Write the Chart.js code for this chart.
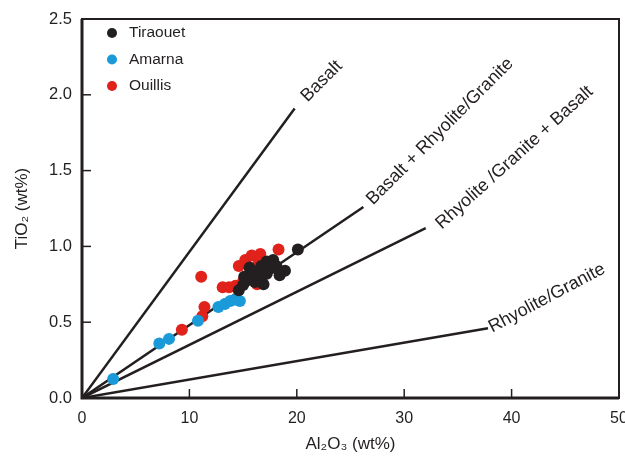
<!DOCTYPE html>
<html>
<head>
<meta charset="utf-8">
<script src="https://cdn.jsdelivr.net/npm/chart.js@4.4.1/dist/chart.umd.min.js"></script>
<style>
    html, body { margin: 0; padding: 0; background: #fff; }
    #wrap { width: 625px; height: 459px; }
</style>
</head>
<body>
<div id="wrap"><canvas id="chart" width="625" height="459"></canvas></div>
<script>
// Samples (Al2O3 wt%, TiO2 wt%)
const tiraouetX = [14.6, 15.0, 15.1, 15.6, 15.6, 16.1, 16.1, 16.7, 16.7, 16.9, 17.2, 17.2, 17.6, 17.8, 18.1, 18.4, 18.9, 20.1];
const tiraouetY = [0.71, 0.745, 0.80, 0.79, 0.86, 0.83, 0.765, 0.87, 0.79, 0.75, 0.90, 0.82, 0.855, 0.91, 0.87, 0.81, 0.84, 0.98];

const amarnaX = [2.9, 7.2, 8.1, 10.8, 12.7, 13.3, 13.8, 14.3, 14.7];
const amarnaY = [0.125, 0.36, 0.39, 0.51, 0.60, 0.62, 0.64, 0.65, 0.64];

const ouillisX = [9.3, 11.2, 11.4, 11.1, 13.1, 13.7, 14.3, 15.0, 14.6, 15.2, 15.8, 16.6, 16.4, 18.3, 16.3];
const ouillisY = [0.45, 0.54, 0.60, 0.80, 0.73, 0.73, 0.74, 0.77, 0.87, 0.91, 0.94, 0.95, 0.88, 0.98, 0.75];

// Reference lines from the origin
const lineNames = ['Basalt', 'Basalt + Rhyolite/Granite', 'Rhyolite /Granite + Basalt', 'Rhyolite/Granite'];
const lineEndX = [19.8, 26.2, 32.0, 37.8];
const lineEndY = [1.91, 1.26, 1.12, 0.46];

const xTicks = [0, 10, 20, 30, 40, 50];
const yTicks = [0, 0.5, 1.0, 1.5, 2.0, 2.5];

const seriesNames = ['Tiraouet', 'Amarna', 'Ouillis'];
const seriesColors = ['#231f20', '#1a9ad8', '#e0221b'];

// where each line label starts (data units) and its tilt
const labelSpots = [
    { x: 21.0, y: 1.95, angle: -45 },
    { x: 27.1, y: 1.27, angle: -45 },
    { x: 33.5, y: 1.11, angle: -42 },
    { x: 38.2, y: 0.43, angle: -28 }
];

const ink = '#231f20';
const FONT = '"Liberation Sans", Arial, sans-serif';

const toPoints = (xs, ys) => xs.map((x, i) => ({ x: x, y: ys[i] }));

const datasets = [];
lineNames.forEach((name, i) => {
    datasets.push({
        type: 'line',
        label: name,
        data: [{ x: 0, y: 0 }, { x: lineEndX[i], y: lineEndY[i] }],
        borderColor: ink,
        borderWidth: 2.5,
        pointRadius: 0,
        showLine: true,
        order: 2
    });
});
[[tiraouetX, tiraouetY], [amarnaX, amarnaY], [ouillisX, ouillisY]].forEach((s, i) => {
    datasets.push({
        label: seriesNames[i],
        data: toPoints(s[0], s[1]),
        backgroundColor: seriesColors[i],
        borderColor: seriesColors[i],
        borderWidth: 0,
        pointRadius: 6,
        order: 1
    });
});

const decorPlugin = {
    id: 'decor',
    afterDatasetsDraw(chart) {
        const ctx = chart.ctx;
        const area = chart.chartArea;
        const xs = chart.scales.x, ys = chart.scales.y;
        ctx.save();

        // inward ticks
        ctx.strokeStyle = ink;
        ctx.lineWidth = 1.5;
        xTicks.slice(1, -1).forEach(v => {
            const px = xs.getPixelForValue(v);
            ctx.beginPath();
            ctx.moveTo(px, area.bottom);
            ctx.lineTo(px, area.bottom - 9);
            ctx.stroke();
        });
        yTicks.slice(1, -1).forEach(v => {
            const py = ys.getPixelForValue(v);
            ctx.beginPath();
            ctx.moveTo(area.left, py);
            ctx.lineTo(area.left + 9, py);
            ctx.stroke();
        });

        // frame: heavier on the axes
        ctx.lineWidth = 2;
        ctx.strokeRect(area.left, area.top, area.right - area.left, area.bottom - area.top);
        ctx.lineWidth = 3;
        ctx.beginPath();
        ctx.moveTo(area.left, area.top);
        ctx.lineTo(area.left, area.bottom);
        ctx.lineTo(area.right, area.bottom);
        ctx.stroke();

        // line labels
        ctx.fillStyle = ink;
        ctx.font = '18px ' + FONT;
        ctx.textAlign = 'left';
        ctx.textBaseline = 'alphabetic';
        lineNames.forEach((name, i) => {
            const s = labelSpots[i];
            ctx.save();
            ctx.translate(xs.getPixelForValue(s.x), ys.getPixelForValue(s.y));
            ctx.rotate(s.angle * Math.PI / 180);
            ctx.fillText(name, 0, 0);
            ctx.restore();
        });

        // legend
        ctx.font = '15.5px ' + FONT;
        ctx.textBaseline = 'middle';
        seriesNames.forEach((name, i) => {
            const cy = area.top + 14 + i * 26.5;
            ctx.fillStyle = seriesColors[i];
            ctx.beginPath();
            ctx.arc(area.left + 30, cy, 5, 0, Math.PI * 2);
            ctx.fill();
            ctx.fillStyle = ink;
            ctx.fillText(name, area.left + 47, cy);
        });
        ctx.restore();
    }
};

new Chart(document.getElementById('chart'), {
    type: 'scatter',
    data: { datasets: datasets },
    plugins: [decorPlugin],
    options: {
        responsive: false,
        animation: false,
        layout: { padding: { top: 19, right: 3, left: 0, bottom: 0 } },
        plugins: {
            legend: { display: false },
            tooltip: { enabled: false }
        },
        scales: {
            x: {
                type: 'linear',
                min: 0,
                max: 50,
                afterBuildTicks: (scale) => { scale.ticks = xTicks.map(v => ({ value: v })); },
                afterFit: (scale) => { scale.height = 61; scale.paddingLeft = 0; scale.paddingRight = 0; },
                grid: { display: false, drawTicks: false },
                border: { display: false },
                ticks: {
                    color: ink,
                    padding: 11,
                    maxRotation: 0,
                    font: { family: FONT, size: 16 },
                    callback: (v) => String(v)
                },
                title: {
                    display: true,
                    text: 'Al₂O₃ (wt%)',
                    color: ink,
                    font: { family: FONT, size: 17 },
                    padding: { top: 10 }
                }
            },
            y: {
                type: 'linear',
                min: 0,
                max: 2.5,
                afterBuildTicks: (scale) => { scale.ticks = yTicks.map(v => ({ value: v })); },
                afterFit: (scale) => { scale.width = 82; scale.paddingTop = 0; scale.paddingBottom = 0; },
                grid: { display: false, drawTicks: false },
                border: { display: false },
                ticks: {
                    color: ink,
                    padding: 10,
                    font: { family: FONT, size: 16.5 },
                    callback: (v) => v.toFixed(1)
                },
                title: {
                    display: true,
                    text: 'TiO₂ (wt%)',
                    color: ink,
                    font: { family: FONT, size: 17 },
                    padding: { top: 12, bottom: 0 }
                }
            }
        }
    }
});
</script>
</body>
</html>
